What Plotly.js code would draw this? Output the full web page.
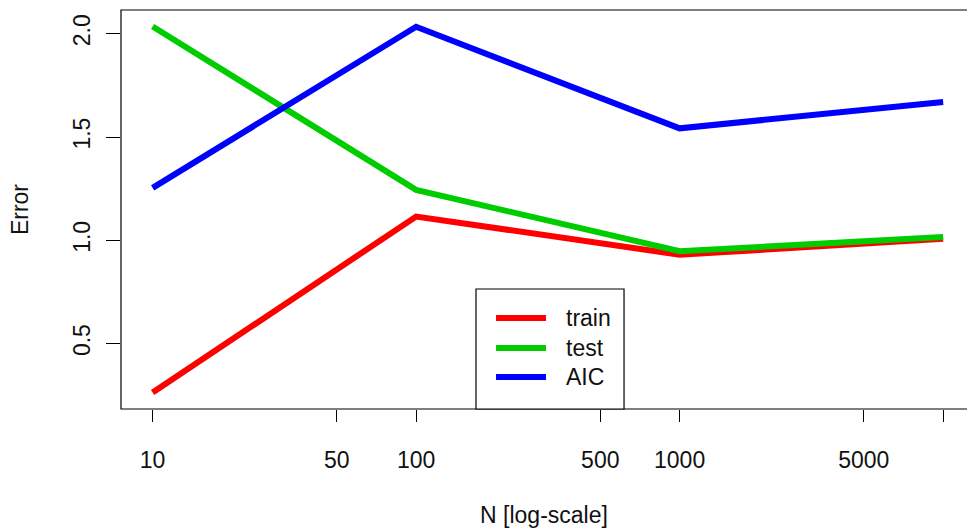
<!DOCTYPE html>
<html>
<head>
<meta charset="utf-8">
<script src="https://cdn.plot.ly/plotly-3.0.1.min.js"></script>
<style>html,body{margin:0;padding:0;background:#fff;}#chart{width:967px;height:532px;}</style>
</head>
<body>
<div id="chart"></div>
<script>
const N = [10, 100, 1000, 10000];
const trainErr = [0.263, 1.115, 0.930, 1.007];
const testErr = [2.035, 1.244, 0.947, 1.016];
const aicErr = [1.254, 2.034, 1.542, 1.670];
const seriesNames = ["train", "test", "AIC"];
const seriesColors = ["#FF0000", "#00CD00", "#0000FF"];
const xTickVals = [10, 50, 100, 500, 1000, 5000, 10000];
const xTickText = ["10", "50", "100", "500", "1000", "5000", ""];
const yTickVals = [0.5, 1.0, 1.5, 2.0];
const yTickText = ["0.5", "1.0", "1.5", "2.0"];

const font = {family: "Liberation Sans, Arial, sans-serif", size: 23, color: "#111"};
const allSeries = [trainErr, testErr, aicErr];
const traces = allSeries.map((ys, i) => ({
  x: N, y: ys, type: "scatter", mode: "lines", name: seriesNames[i],
  line: {color: seriesColors[i], width: 6}, showlegend: false
}));

// Legend (R-style box) built from the series names/colours
const legX0 = 0.4196, legX1 = 0.5946, legY0 = 0, legY1 = 0.3008;
const legLineX0 = 0.4433, legLineX1 = 0.5024, legTextX = 0.5236;
const legRowY = [0.2281, 0.1529, 0.0802];
const shapes = [{
  type: "rect", xref: "paper", yref: "paper",
  x0: 0, x1: 1.02, y0: 0, y1: 1,
  line: {color: "#000", width: 1.2}
}, {
  type: "rect", xref: "paper", yref: "paper",
  x0: legX0, x1: legX1, y0: legY0, y1: legY1,
  fillcolor: "#fff", line: {color: "#000", width: 1.2}, layer: "above"
}];
const annotations = [];
seriesNames.forEach((nm, i) => {
  shapes.push({
    type: "line", xref: "paper", yref: "paper",
    x0: legLineX0, x1: legLineX1, y0: legRowY[i], y1: legRowY[i],
    line: {color: seriesColors[i], width: 6}, layer: "above"
  });
  annotations.push({
    xref: "paper", yref: "paper", x: legTextX, y: legRowY[i],
    xanchor: "left", yanchor: "middle", text: nm, showarrow: false, font: font
  });
});

const layout = {
  width: 967, height: 532,
  margin: {l: 121, r: 0, t: 10, b: 123},
  paper_bgcolor: "#fff", plot_bgcolor: "#fff",
  font: font,
  showlegend: false,
  xaxis: {
    type: "log", range: [0.88, 4.0906],
    tickvals: xTickVals, ticktext: xTickText,
    ticks: "outside", ticklen: 12, tickwidth: 1, tickcolor: "#000",
    ticklabelstandoff: 18,
    showgrid: false, zeroline: false, showline: false,
    tickfont: font,
    title: {text: "N [log-scale]", font: font, standoff: 35}
  },
  yaxis: {
    range: [0.183, 2.115],
    tickvals: yTickVals, ticktext: yTickText, tickangle: -90,
    ticks: "outside", ticklen: 14, tickwidth: 1, tickcolor: "#000",
    ticklabelstandoff: 7,
    showgrid: false, zeroline: false, showline: false,
    tickfont: font,
    title: {text: "Error", font: font, standoff: 33}
  },
  shapes: shapes,
  annotations: annotations
};

Plotly.newPlot("chart", traces, layout, {displayModeBar: false, staticPlot: true});
</script>
</body>
</html>
